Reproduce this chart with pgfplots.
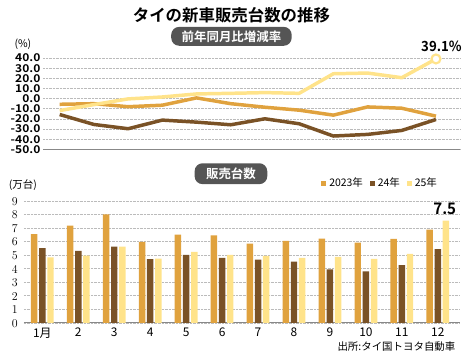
\documentclass[border=0pt]{standalone}
\usepackage{fontspec}
\setmainfont{Noto Sans CJK JP}[BoldFont={Noto Sans CJK JP Bold}]
\newfontfamily\numfont{Noto Sans CJK JP Bold}[FakeStretch=0.95]
\newfontfamily\numfontw{Noto Sans CJK JP Bold}[FakeStretch=1.12]
\usepackage{pgfplots}
\pgfplotsset{compat=1.18}
\definecolor{c23}{HTML}{E0A23E}
\definecolor{c24}{HTML}{7A5226}
\definecolor{c25}{HTML}{FFE38A}
\definecolor{pill}{HTML}{555555}
\definecolor{gridc}{HTML}{BBBBBB}
\definecolor{basec}{HTML}{888888}
\begin{document}
\begin{tikzpicture}
\path (0pt,0pt) rectangle (465pt,358pt);
% titles
\node[font=\bfseries\fontsize{16.5}{18}\selectfont] at (232.5pt,343pt) {タイの新車販売台数の推移};
\node[fill=pill, rounded corners=8pt, text=white, font=\bfseries\fontsize{12.5}{13}\selectfont, minimum width=121pt, minimum height=19pt, inner sep=0pt] at (232.5pt,321.5pt) {前年同月比増減率};
\node[fill=pill, rounded corners=8pt, text=white, font=\bfseries\fontsize{12.5}{13}\selectfont, minimum width=73pt, minimum height=21pt, inner sep=0pt] at (232pt,183.5pt) {販売台数};
\node[font=\fontsize{10.5}{11}\selectfont] at (23pt,314pt) {(\%)};
\node[font=\fontsize{10.5}{11}\selectfont] at (23pt,172pt) {(万台)};
\node[anchor=east, font=\fontsize{10.5}{11}\selectfont] at (461pt,10pt) {出所:タイ国トヨタ自動車};
% top line chart
\begin{axis}[
  at={(43.3pt,208pt)}, anchor=south west, scale only axis,
  width=418.7pt, height=91.7pt,
  xmin=0.515, xmax=12.70, ymin=-50, ymax=40,
  axis x line*=bottom, axis y line*=left,
  x axis line style={basec, line width=1pt},
  y axis line style={draw=none},
  xtick=\empty, ytick={-50,-40,...,40},
  yticklabels={-50.0,-40.0,-30.0,-20.0,-10.0,0.0,10.0,20.0,30.0,40.0},
  major tick length=0pt,
  yticklabel style={font=\numfontw\fontsize{10.8}{10}\selectfont, inner sep=0.5pt, text height=7.8pt, text depth=0pt, xshift=-2pt},
  ymajorgrids, grid style={densely dotted, gridc, line width=0.5pt},
  clip=false,
]
\addplot[c23, line width=3.5pt, line join=round] coordinates {(1,-5.6)(2,-5.0)(3,-8.0)(4,-6.5)(5,0.7)(6,-5.0)(7,-8.5)(8,-11.4)(9,-16.3)(10,-8.2)(11,-9.5)(12,-17.3)};
\addplot[c24, line width=3.5pt, line join=round] coordinates {(1,-15.7)(2,-25.5)(3,-29.7)(4,-21.2)(5,-23.2)(6,-25.8)(7,-19.9)(8,-24.8)(9,-36.9)(10,-35.3)(11,-31.4)(12,-20.6)};
\addplot[c25, line width=3.5pt, line join=round] coordinates {(1,-11.8)(2,-5.9)(3,-0.3)(4,1.6)(5,4.6)(6,5.2)(7,5.9)(8,5.2)(9,24.5)(10,25.2)(11,20.6)(12,39.1)};
\addplot[c25, line width=2.2pt, only marks, mark=*, mark size=4.5pt, mark options={fill=white}] coordinates {(12,39.1)};
\node[anchor=south, font=\numfont\fontsize{14}{14}\selectfont, yshift=4pt, xshift=5.5pt] at (axis cs:12,39.1) {39.1\%};
\end{axis}
% bottom bar chart
\begin{axis}[
  at={(24pt,33.7pt)}, anchor=south west, scale only axis,
  width=438pt, height=122.6pt,
  xmin=0.487, xmax=12.615, ymin=0, ymax=9,
  ybar=1.7pt, bar width=6.5pt,
  axis x line*=bottom, axis y line*=left,
  x axis line style={basec, line width=1pt},
  y axis line style={draw=none},
  xtick={1,...,12}, xticklabels={1月,2,3,4,5,6,7,8,9,10,11,12},
  ytick={0,...,9},
  major tick length=0pt,
  yticklabel style={font=\numfont\fontsize{12.5}{12}\selectfont, inner sep=1pt, text height=9pt, text depth=0pt, xshift=-5pt},
  xticklabel style={font=\fontsize{12}{12}\selectfont, inner sep=1pt, yshift=-4pt},
  ymajorgrids, grid style={densely dotted, gridc, line width=0.5pt},
  clip=false,
  legend columns=3,
  legend style={at={(0.817,1.144)}, anchor=center, draw=none, fill=none, font=\fontsize{10.5}{11}\selectfont, /tikz/every odd column/.append style={column sep=1pt}, /tikz/every even column/.append style={column sep=5pt}},
  legend image code/.code={\fill[#1] (2pt,-2.5pt) rectangle (7pt,2.5pt);},
]
\addplot[fill=c23, draw=none] coordinates {(1,6.55)(2,7.16)(3,8.0)(4,5.97)(5,6.50)(6,6.45)(7,5.84)(8,6.04)(9,6.21)(10,5.92)(11,6.19)(12,6.87)};
\addlegendentry{2023年}
\addplot[fill=c24, draw=none] coordinates {(1,5.50)(2,5.31)(3,5.62)(4,4.69)(5,5.01)(6,4.79)(7,4.67)(8,4.52)(9,3.94)(10,3.79)(11,4.25)(12,5.43)};
\addlegendentry{24年}
\addplot[fill=c25, draw=none] coordinates {(1,4.82)(2,4.96)(3,5.62)(4,4.74)(5,5.23)(6,5.01)(7,4.94)(8,4.79)(9,4.87)(10,4.72)(11,5.09)(12,7.53)};
\addlegendentry{25年}
\node[anchor=south, font=\numfont\fontsize{16}{16}\selectfont, xshift=7pt, yshift=2pt] at (axis cs:12,7.53) {7.5};
\end{axis}
\end{tikzpicture}
\end{document}
